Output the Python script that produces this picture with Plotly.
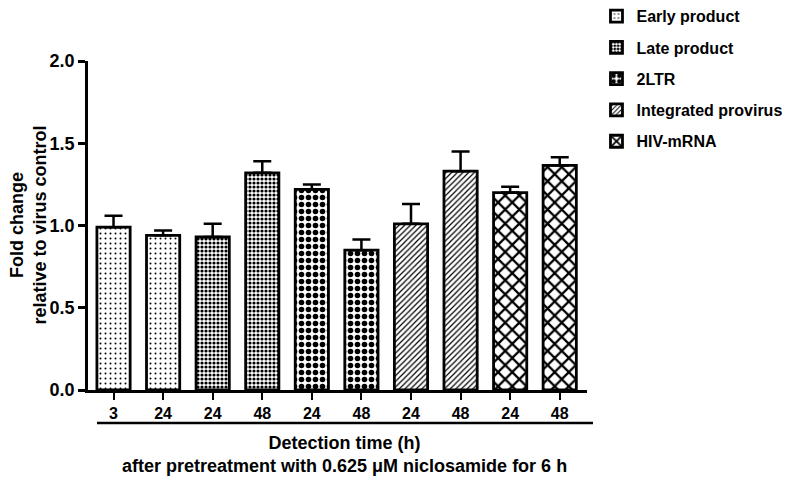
import plotly.graph_objects as go

# ---- data ----
tick_labels = ["3", "24", "24", "48", "24", "48", "24", "48", "24", "48"]
series_names = ["Early product", "Late product", "2LTR", "Integrated provirus", "HIV-mRNA"]
series_index = [[0, 1], [2, 3], [4, 5], [6, 7], [8, 9]]
means = [0.99, 0.94, 0.93, 1.32, 1.22, 0.85, 1.01, 1.33, 1.20, 1.365]
errors = [0.07, 0.03, 0.08, 0.07, 0.03, 0.065, 0.12, 0.12, 0.035, 0.05]
y_ticks = [0.0, 0.5, 1.0, 1.5, 2.0]

# ---- styles ----
patterns = [
    dict(shape=".", size=5, solidity=0.12),
    dict(shape=".", size=4, solidity=0.5),
    dict(shape=".", size=7, solidity=0.5),
    dict(shape="/", size=4, solidity=0.3),
    dict(shape="x", size=10, solidity=0.4),
]

FONT = "Liberation Sans"

fig = go.Figure()
for name, idx, pat in zip(series_names, series_index, patterns):
    fig.add_trace(go.Bar(
        name=name,
        legendgroup=name,
        x=idx,
        y=[means[i] for i in idx],
        width=0.67,
        marker=dict(
            color="white",
            line=dict(color="black", width=2.8),
            pattern=dict(fgcolor="black", bgcolor="white", fillmode="replace", **pat),
        ),
        error_y=dict(type="data", symmetric=False,
                     array=[errors[i] for i in idx],
                     arrayminus=[0 for _ in idx],
                     color="black", thickness=2.5, width=9),
    ))

fig.update_layout(
    width=782, height=470,
    margin=dict(l=80, r=203, t=53, b=88, autoexpand=False),
    plot_bgcolor="white", paper_bgcolor="white",
    font=dict(family=FONT, color="black", size=16, weight="bold"),
    showlegend=True,
    legend=dict(x=1.019, y=1.188, xanchor="left", yanchor="top",
                font=dict(family=FONT, size=16, weight="bold"),
                tracegroupgap=7.5, traceorder="grouped",
                bgcolor="rgba(0,0,0,0)"),
)

fig.update_xaxes(
    range=[-0.515, 9.55],
    tickmode="array", tickvals=list(range(len(tick_labels))), ticktext=tick_labels,
    showline=True, linecolor="black", linewidth=2.5,
    ticks="outside", ticklen=7, tickwidth=2, tickcolor="black",
    tickfont=dict(family=FONT, size=16, weight="bold"),
    showgrid=False, zeroline=False,
)
fig.update_yaxes(
    range=[0, 2.0],
    tickmode="array", tickvals=y_ticks, tickformat=".1f",
    showline=True, linecolor="black", linewidth=2.5,
    ticks="outside", ticklen=7, tickwidth=2.5, tickcolor="black",
    tickfont=dict(family=FONT, size=18, weight="bold"),
    showgrid=False, zeroline=False,
)

# bracket line under tick labels
fig.add_shape(type="line", xref="paper", yref="paper",
              x0=0.018, x1=1.012, y0=-0.1, y1=-0.1,
              line=dict(color="black", width=2.5))

fig.add_annotation(
    text="Detection time (h)<br>after pretreatment with 0.625 μM niclosamide for 6 h",
    xref="paper", yref="paper", x=0.515, y=-0.126, xanchor="center", yanchor="top",
    showarrow=False, font=dict(family=FONT, size=18, weight="bold"),
)
fig.add_annotation(
    text="Fold change<br>relative to virus control",
    xref="paper", yref="paper", x=-0.12, y=0.5, xanchor="center", yanchor="middle",
    textangle=-90, showarrow=False, font=dict(family=FONT, size=18, weight="bold"),
)

fig.write_html("out.html")
